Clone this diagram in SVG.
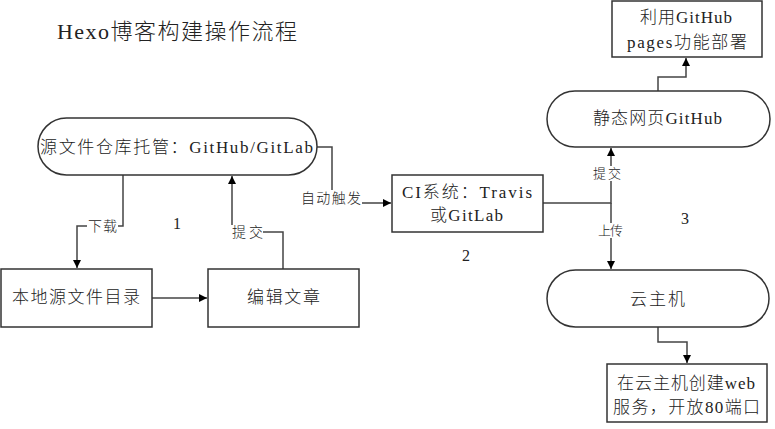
<svg xmlns="http://www.w3.org/2000/svg" width="775" height="429" viewBox="0 0 775 429">
<defs>
<marker id="arr" viewBox="0 0 10 10" refX="10" refY="5" markerWidth="8" markerHeight="8" markerUnits="userSpaceOnUse" orient="auto">
<path d="M0,0 L10,5 L0,10 z" fill="#000"/>
</marker>
<style>
.box{fill:#fff;stroke:#333;stroke-width:1.5}
.t{font-family:"Liberation Serif","Noto Sans CJK SC",serif;fill:#222;font-size:17px;font-weight:300}
.s{font-family:"Liberation Serif","Noto Sans CJK SC",serif;fill:#222;font-size:14px;font-weight:300}
.xs{font-family:"Liberation Serif","Noto Sans CJK SC",serif;fill:#222;font-size:13px;font-weight:300}
.c{fill:none;stroke:#444;stroke-width:1.5}
.bg{fill:#fff}
</style>
</defs>
<rect width="775" height="429" fill="#fff"/>
<text class="t" x="57" y="39" style="font-size:22px" textLength="240" lengthAdjust="spacing">Hexo博客构建操作流程</text>

<g id="connectors">
<path class="c" d="M123,175 V226 H77 V268" marker-end="url(#arr)"/>
<path class="c" d="M283,269 V232 H232 V176" marker-end="url(#arr)"/>
<path class="c" d="M152,298 H207" marker-end="url(#arr)"/>
<path class="c" d="M317,147 H332 V203 H391" marker-end="url(#arr)"/>
<path class="c" d="M543,203 H611 V148" marker-end="url(#arr)"/>
<path class="c" d="M611,203 V269" marker-end="url(#arr)"/>
<path class="c" d="M658,91 V77 H686 V58" marker-end="url(#arr)"/>
<path class="c" d="M658,327 V342 H687 V363" marker-end="url(#arr)"/>
<rect class="bg" x="87" y="219" width="31" height="15"/>
<text class="s" x="88" y="231" textLength="29" lengthAdjust="spacing">下载</text>
<rect class="bg" x="231" y="225" width="32" height="15"/>
<text class="s" x="232" y="237" textLength="31" lengthAdjust="spacing">提交</text>
<rect class="bg" x="300" y="190" width="62" height="16"/>
<text class="s" x="301" y="203" textLength="60" lengthAdjust="spacing">自动触发</text>
<rect class="bg" x="592" y="166" width="30" height="15"/>
<text class="xs" x="593" y="178" textLength="28" lengthAdjust="spacing">提交</text>
<rect class="bg" x="597" y="223" width="27" height="15"/>
<text class="xs" x="598" y="235" textLength="25" lengthAdjust="spacing">上传</text>
</g>

<g id="n-repo">
<rect class="box" x="38" y="118" width="279" height="57" rx="28.5"/>
<text class="t" x="40" y="153" textLength="273" lengthAdjust="spacing">源文件仓库托管：GitHub/GitLab</text>
</g>
<g id="n-local">
<rect class="box" x="1" y="269" width="151" height="58"/>
<text class="t" x="12" y="303" textLength="128" lengthAdjust="spacing">本地源文件目录</text>
</g>
<g id="n-edit">
<rect class="box" x="208" y="269" width="151" height="58"/>
<text class="t" x="247" y="303" textLength="73" lengthAdjust="spacing">编辑文章</text>
</g>
<g id="n-ci">
<rect class="box" x="392" y="175" width="151" height="57"/>
<text class="t" x="402" y="198" textLength="130" lengthAdjust="spacing">CI系统：Travis</text>
<text class="t" x="430" y="221" textLength="73" lengthAdjust="spacing">或GitLab</text>
</g>
<g id="n-static">
<rect class="box" x="547" y="91" width="223" height="56" rx="28"/>
<text class="t" x="593" y="124" textLength="129" lengthAdjust="spacing">静态网页GitHub</text>
</g>
<g id="n-pages">
<rect class="box" x="612" y="1" width="150" height="56"/>
<text class="t" x="640" y="23" textLength="92" lengthAdjust="spacing">利用GitHub</text>
<text class="t" x="627" y="48" textLength="120" lengthAdjust="spacing">pages功能部署</text>
</g>
<g id="n-cloud">
<rect class="box" x="547" y="270" width="222" height="57" rx="28.5"/>
<text class="t" x="630" y="305" textLength="55" lengthAdjust="spacing">云主机</text>
</g>
<g id="n-web">
<rect class="box" x="607" y="364" width="160" height="58"/>
<text class="t" x="617" y="389" textLength="138" lengthAdjust="spacing">在云主机创建web</text>
<text class="t" x="613" y="413" textLength="147" lengthAdjust="spacing">服务，开放80端口</text>
</g>
<text class="t" x="173" y="229" style="font-size:16px">1</text>
<text class="t" x="462" y="261" style="font-size:16px">2</text>
<text class="t" x="681" y="224" style="font-size:16px">3</text>
</svg>
